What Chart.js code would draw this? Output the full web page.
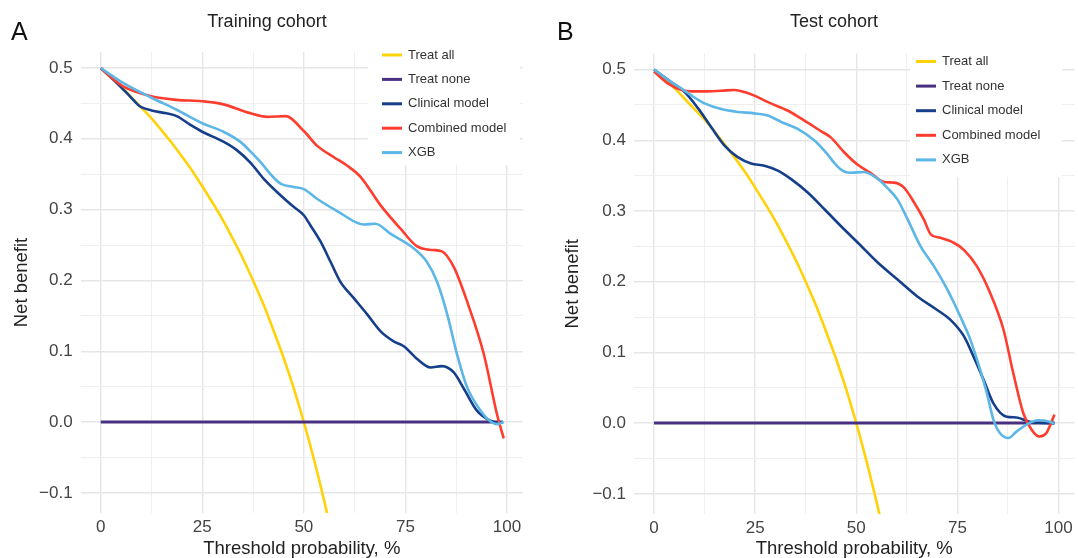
<!DOCTYPE html>
<html lang="en">
<head>
<meta charset="UTF-8">
<title>Decision curves</title>
<script src="https://cdn.jsdelivr.net/npm/chart.js@4"></script>
<style>
  body { margin: 0; background: #fff; }
  #wrap { position: relative; width: 1078px; height: 558px; background: #fff; overflow: hidden;
          font-family: "Liberation Sans", Arial, Helvetica, sans-serif; }
  canvas { position: absolute; top: 0; }
  .panel { position: absolute; font-size: 25px; line-height: 28px; color: #111; }
  .title { position: absolute; width: 240px; text-align: center; font-size: 18px; line-height: 22px; color: #222; }
</style>
</head>
<body>
<div id="wrap">
  <canvas id="chartTrain" width="539" height="558" style="left:0"></canvas>
  <canvas id="chartTest" width="539" height="558" style="left:539px"></canvas>
  <div class="panel" style="left:11px; top:17px">A</div>
  <div class="panel" style="left:557px; top:17px">B</div>
  <div class="title" style="left:147px; top:10px">Training cohort</div>
  <div class="title" style="left:714px; top:10px">Test cohort</div>
</div>

<script>
  // series names and colours (same in both panels)
  const seriesLabels = ['Treat all', 'Treat none', 'Clinical model', 'Combined model', 'XGB'];
  const seriesColors = ['#FFD20A', '#47307F', '#163F8B', '#FF3D2E', '#5CB6E6'];

  // reference lines
  const treatAllX = [0, 2.5, 5, 7.5, 10, 12.5, 15, 17.5, 20, 22.5, 25, 27.5, 30, 32.5, 35, 37.5, 40, 42.5, 45, 47.5, 50, 52.5, 55, 56];
  const treatAllY = [0.5, 0.487, 0.474, 0.459, 0.444, 0.429, 0.412, 0.394, 0.375, 0.355, 0.333, 0.310, 0.286, 0.259, 0.231, 0.2, 0.167, 0.130, 0.091, 0.048, 0, -0.053, -0.111, -0.136];
  const treatNoneX = [0, 99];
  const treatNoneY = [0, 0];

  // training cohort
  const trainClinicalX = [0, 3.9, 7.2, 9.6, 12.5, 16.2, 18.7, 22, 25, 30.2, 33.5, 36.9, 40.2, 44.3, 47.5, 50, 51.6, 54.1, 56.6, 59, 62.3, 65.6, 68.9, 72.1, 74.6, 77.9, 81.2, 84, 86.9, 89.4, 92.6, 95.9, 98.4, 99];
  const trainClinicalY = [0.5, 0.479, 0.46, 0.446, 0.44, 0.436, 0.432, 0.42, 0.41, 0.396, 0.384, 0.366, 0.343, 0.32, 0.304, 0.292, 0.278, 0.255, 0.226, 0.198, 0.175, 0.152, 0.128, 0.114, 0.107, 0.089, 0.077, 0.079, 0.07, 0.047, 0.016, 0.002, -0.001, 0];
  const trainCombinedX = [0, 2.5, 5.5, 12.5, 18.7, 25, 30, 36.9, 41, 45.5, 50, 53.3, 57.4, 60.7, 64, 68.9, 73.8, 77.9, 81.6, 84, 86.9, 90.2, 94.3, 97.5, 99.2];
  const trainCombinedY = [0.5, 0.487, 0.474, 0.46, 0.455, 0.453, 0.449, 0.436, 0.431, 0.432, 0.411, 0.39, 0.374, 0.362, 0.346, 0.306, 0.273, 0.248, 0.243, 0.241, 0.219, 0.17, 0.096, 0.012, -0.023];
  const trainXgbX = [0, 5.5, 12.5, 18.7, 25, 30.2, 34.3, 36.9, 39.2, 42.6, 44.5, 47.4, 50, 53.3, 58.2, 64.8, 67.6, 71.3, 77.1, 80.3, 82.8, 85.3, 87.7, 90.2, 93.5, 95.9, 97.6, 99.2];
  const trainXgbY = [0.5, 0.479, 0.458, 0.441, 0.422, 0.41, 0.396, 0.382, 0.368, 0.345, 0.336, 0.332, 0.329, 0.315, 0.298, 0.279, 0.28, 0.266, 0.245, 0.226, 0.198, 0.152, 0.096, 0.049, 0.016, 0.001, -0.003, 0];

  // test cohort
  const testClinicalX = [0, 4.3, 7.6, 10.9, 14.2, 17.5, 20.7, 24, 27.3, 30.6, 33.9, 38, 42.2, 46.3, 50.4, 55.3, 60.2, 65.1, 70, 73.3, 76.6, 79, 81.5, 83.9, 87.2, 89.6, 92.9, 97.8, 99];
  const testClinicalY = [0.5, 0.482, 0.468, 0.445, 0.418, 0.392, 0.376, 0.367, 0.364, 0.357, 0.345, 0.326, 0.302, 0.278, 0.255, 0.227, 0.203, 0.179, 0.16, 0.146, 0.123, 0.094, 0.061, 0.028, 0.009, 0.008, 0.002, 0, 0];
  const testCombinedX = [0, 3.5, 6.8, 9.3, 12.5, 16.6, 19.9, 22.4, 24.8, 28.9, 33, 37.1, 41.2, 43.7, 47, 50.2, 53.5, 56.9, 59.4, 61.8, 64.3, 66.7, 68.4, 70.8, 74.1, 76.6, 79.8, 83.1, 86.4, 88.8, 91.3, 93.3, 95.3, 97, 99];
  const testCombinedY = [0.497, 0.48, 0.471, 0.469, 0.469, 0.47, 0.471, 0.468, 0.463, 0.452, 0.442, 0.428, 0.413, 0.404, 0.383, 0.366, 0.354, 0.341, 0.34, 0.333, 0.312, 0.288, 0.267, 0.262, 0.255, 0.245, 0.222, 0.184, 0.132, 0.071, 0.014, -0.009, -0.019, -0.014, 0.012];
  const testXgbX = [0, 4.3, 6.8, 9.3, 12.5, 16.6, 20.7, 24.8, 28.1, 31.4, 35.5, 39.6, 42.9, 44.7, 46.6, 48.6, 51.9, 55.2, 57.6, 60.2, 62.7, 65.9, 69.2, 72.5, 75.7, 78.2, 80.6, 82.3, 83.9, 85.5, 87.6, 89.6, 92.1, 94.9, 97.8, 99];
  const testXgbY = [0.5, 0.482, 0.473, 0.463, 0.452, 0.444, 0.44, 0.438, 0.435, 0.426, 0.416, 0.4, 0.38, 0.367, 0.357, 0.354, 0.355, 0.346, 0.333, 0.316, 0.288, 0.25, 0.222, 0.189, 0.151, 0.118, 0.076, 0.042, 0.005, -0.014, -0.021, -0.012, -0.002, 0.004, 0.002, -0.001];

  // tick labels
  const xTickLabels = [0, 25, 50, 75, 100];
  const yTickLabels = [-0.1, 0, 0.1, 0.2, 0.3, 0.4, 0.5];

  Chart.defaults.font.family = '"Liberation Sans", Arial, Helvetica, sans-serif';

  function pairs(xs, ys) {
    return xs.map(function (x, i) { return { x: x, y: ys[i] }; });
  }

  function isLabelled(list, v) {
    return list.some(function (t) { return Math.abs(t - v) < 1e-6; });
  }

  function yLabel(v) {
    if (Math.abs(v) < 1e-9) return '0.0';
    return (v < 0 ? '\u2212' : '') + Math.abs(v).toFixed(1);
  }

  // legend drawn inside the panel on a white box, like the ggplot one
  const boxLegend = {
    id: 'boxLegend',
    afterDraw(chart, args, opts) {
      const ctx = chart.ctx;
      ctx.save();
      ctx.fillStyle = '#ffffff';
      ctx.fillRect(opts.left, opts.top, opts.width, opts.height);
      ctx.font = '13px "Liberation Sans", Arial, sans-serif';
      ctx.textBaseline = 'middle';
      chart.data.datasets.forEach(function (ds, i) {
        const y = opts.firstRow + i * opts.rowGap;
        ctx.strokeStyle = ds.borderColor;
        ctx.lineWidth = 3;
        ctx.beginPath();
        ctx.moveTo(opts.symbolX, y);
        ctx.lineTo(opts.symbolX + 20, y);
        ctx.stroke();
        ctx.fillStyle = '#333';
        ctx.fillText(ds.label, opts.symbolX + 26, y);
      });
      ctx.restore();
    }
  };

  function isMajor(c) {
    const v = c.tick.value;
    return c.scale.axis === 'x' ? isLabelled(xTickLabels, v) : isLabelled(yTickLabels, v);
  }
  function gridColor(c) { return isMajor(c) ? '#E6E6E6' : '#EFEFEF'; }
  function gridWidth(c) { return isMajor(c) ? 1.4 : 1; }

  function makeChart(id, clinical, combined, xgb, lay) {
    const series = [
      pairs(treatAllX, treatAllY),
      pairs(treatNoneX, treatNoneY),
      clinical,
      combined,
      xgb
    ];
    const datasets = series.map(function (d, i) {
      return {
        label: seriesLabels[i],
        data: d,
        borderColor: seriesColors[i],
        backgroundColor: seriesColors[i],
        borderWidth: i === 1 ? 3 : 2.6,
        pointRadius: 0,
        cubicInterpolationMode: 'monotone',
        fill: false,
        order: 4 - i   // later series drawn on top, as in the original
      };
    });

    return new Chart(document.getElementById(id), {
      type: 'line',
      data: { datasets: datasets },
      options: {
        responsive: false,
        animation: false,
        layout: { padding: lay.padding },
        plugins: {
          legend: { display: false },
          title: { display: false },
          tooltip: { enabled: false },
          boxLegend: lay.legend
        },
        scales: {
          x: {
            type: 'linear',
            min: -4.95,
            max: 103.95,
            afterFit: function (s) { s.height = lay.xHeight; },
            border: { display: false },
            grid: { drawTicks: false, color: gridColor, lineWidth: gridWidth },
            ticks: {
              stepSize: 12.5, includeBounds: false, autoSkip: false, maxRotation: 0,
              padding: 4, color: '#444', font: { size: 17 },
              callback: function (v) { return isLabelled(xTickLabels, v) ? String(v) : ''; }
            },
            title: {
              display: true, text: 'Threshold probability, %', color: '#222',
              font: { size: 18.5, lineHeight: 1 }, padding: 0
            }
          },
          y: {
            min: -0.1285,
            max: 0.5226,
            afterFit: function (s) { s.width = lay.yWidth; },
            border: { display: false },
            grid: { drawTicks: false, color: gridColor, lineWidth: gridWidth },
            ticks: {
              stepSize: 0.05, includeBounds: false, autoSkip: false, maxTicksLimit: 30,
              padding: 8, color: '#444', font: { size: 17 },
              callback: function (v) { return isLabelled(yTickLabels, v) ? yLabel(v) : ''; }
            },
            title: {
              display: true, text: 'Net benefit', color: '#222',
              font: { size: 18.5, lineHeight: 1.2 }, padding: 0
            }
          }
        }
      },
      plugins: [boxLegend]
    });
  }

  makeChart('chartTrain',
    pairs(trainClinicalX, trainClinicalY),
    pairs(trainCombinedX, trainCombinedY),
    pairs(trainXgbX, trainXgbY),
    {
      padding: { left: 10.6, top: 52, right: 16, bottom: 0 },
      yWidth: 70,
      xHeight: 45,
      legend: { left: 368, top: 40, width: 152, height: 125, symbolX: 382, firstRow: 55, rowGap: 24.4 }
    });

  makeChart('chartTest',
    pairs(testClinicalX, testClinicalY),
    pairs(testCombinedX, testCombinedY),
    pairs(testXgbX, testXgbY),
    {
      padding: { left: 22.9, top: 53.5, right: 3.5, bottom: 0 },
      yWidth: 72.1,
      xHeight: 44,
      legend: { left: 371, top: 52, width: 152, height: 125, symbolX: 377, firstRow: 61.5, rowGap: 24.6 }
    });
</script>
</body>
</html>
